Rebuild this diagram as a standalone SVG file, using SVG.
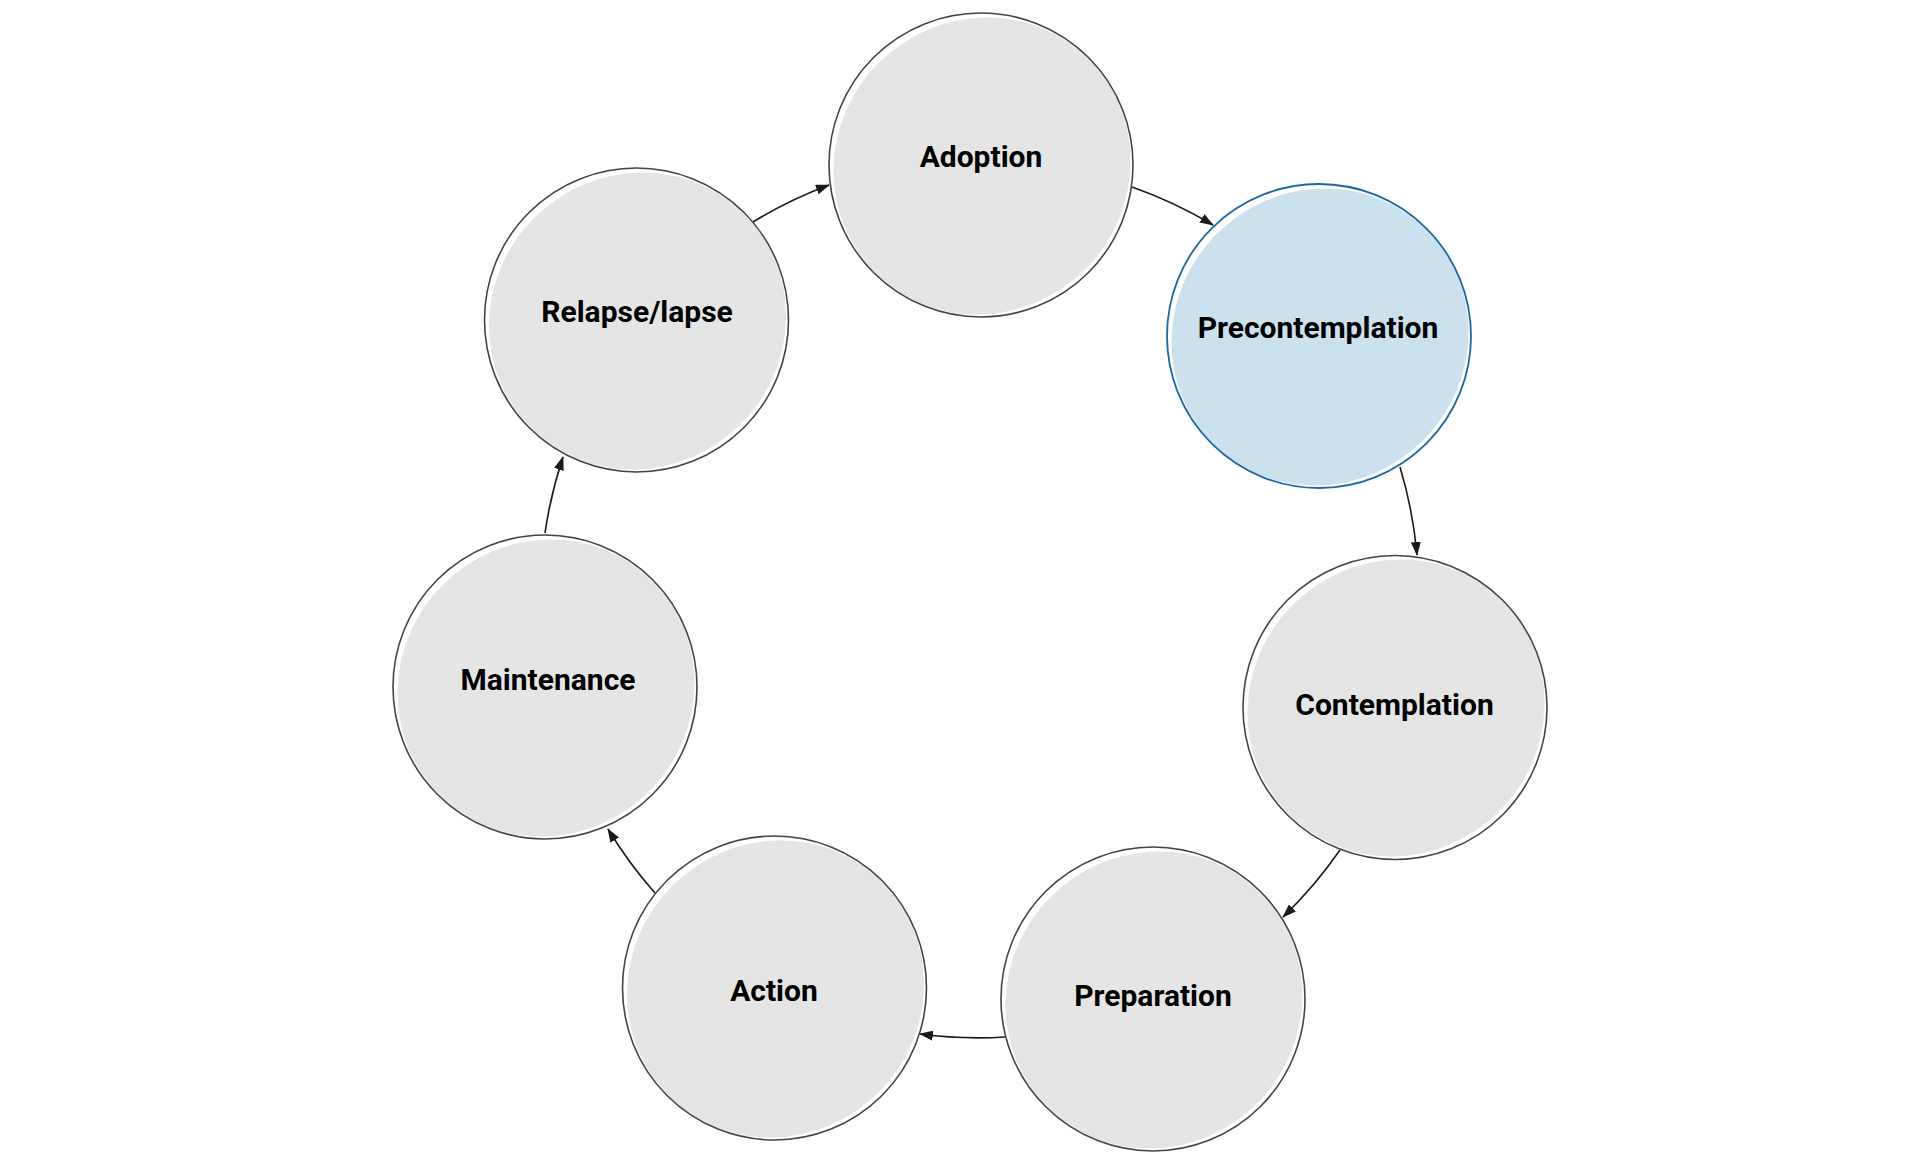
<svg xmlns="http://www.w3.org/2000/svg" width="1920" height="1164" viewBox="0 0 1920 1164">
<style>
.fill{fill:#e5e5e5;stroke:none}
.ring{fill:none;stroke:#444;stroke-width:1.6}
.fillb{fill:#cce1ee;stroke:none}
.ringb{fill:none;stroke:#1a67a8;stroke-width:1.8}
.lbl{font-family:Roboto,"Liberation Sans",sans-serif;font-weight:700;font-size:30px;fill:#000;text-anchor:middle}
.edge{fill:none;stroke:#1a1a1a;stroke-width:1.6;marker-end:url(#arr)}
</style>
<defs>
<marker id="arr" viewBox="0 0 14 10" refX="13" refY="5" markerWidth="14" markerHeight="10" markerUnits="userSpaceOnUse" orient="auto">
<path d="M0,0 L14,5 L0,10 Z" fill="#1a1a1a"/>
</marker>
</defs>
<rect width="1920" height="1164" fill="#fff"/>
<g id="edges">
<path class="edge" d="M753,222 A440,440 0 0 1 829,185"/>
<path class="edge" d="M1132,187 A440,440 0 0 1 1213,225"/>
<path class="edge" d="M1400,467 A440,440 0 0 1 1417,555"/>
<path class="edge" d="M1340,850 A440,440 0 0 1 1283,917"/>
<path class="edge" d="M1005,1037 A440,440 0 0 1 920,1034"/>
<path class="edge" d="M655,893 A440,440 0 0 1 608,829"/>
<path class="edge" d="M545,533 A440,440 0 0 1 563,457"/>
</g>
<g id="adoption">
<ellipse class="fill" cx="982" cy="166" rx="151" ry="146" transform="rotate(-45 982 166)"/>
<circle class="ring" cx="981" cy="165" r="152"/>
<text class="lbl" x="981" y="167">Adoption</text>
</g>
<g id="precontemplation">
<ellipse class="fillb" cx="1320" cy="337" rx="151" ry="146" transform="rotate(-45 1320 337)"/>
<circle class="ringb" cx="1319" cy="336" r="152"/>
<text class="lbl" x="1318" y="338">Precontemplation</text>
</g>
<g id="contemplation">
<ellipse class="fill" cx="1396" cy="708" rx="151" ry="146" transform="rotate(-45 1396 708)"/>
<circle class="ring" cx="1395" cy="707.5" r="152"/>
<text class="lbl" x="1394.5" y="715">Contemplation</text>
</g>
<g id="preparation">
<ellipse class="fill" cx="1154" cy="1000" rx="151" ry="146" transform="rotate(-45 1154 1000)"/>
<circle class="ring" cx="1153" cy="999" r="152"/>
<text class="lbl" x="1153" y="1006">Preparation</text>
</g>
<g id="action">
<ellipse class="fill" cx="775.5" cy="989" rx="151" ry="146" transform="rotate(-45 775.5 989)"/>
<circle class="ring" cx="774.5" cy="988" r="152"/>
<text class="lbl" x="774" y="1001">Action</text>
</g>
<g id="maintenance">
<ellipse class="fill" cx="546" cy="688" rx="151" ry="146" transform="rotate(-45 546 688)"/>
<circle class="ring" cx="545" cy="687" r="152"/>
<text class="lbl" x="548" y="690">Maintenance</text>
</g>
<g id="relapse">
<ellipse class="fill" cx="637.5" cy="321" rx="151" ry="146" transform="rotate(-45 637.5 321)"/>
<circle class="ring" cx="636.5" cy="320" r="152"/>
<text class="lbl" x="637" y="322">Relapse/lapse</text>
</g>
</svg>
